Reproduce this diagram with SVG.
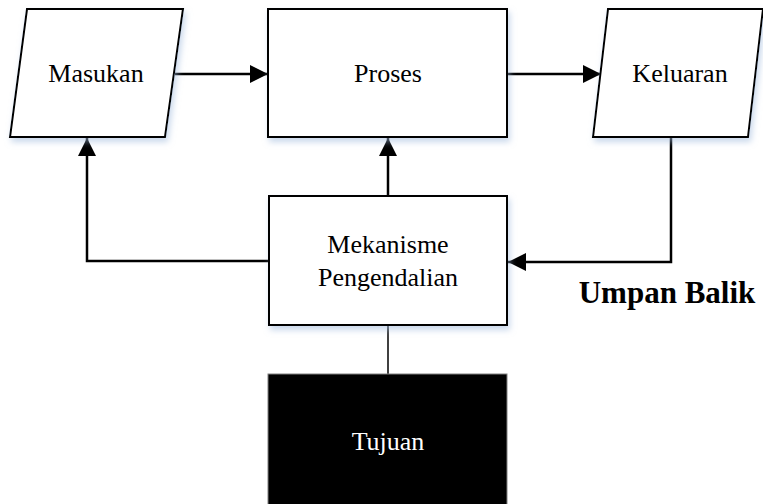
<svg xmlns="http://www.w3.org/2000/svg" width="763" height="504" viewBox="0 0 763 504">
<style>
.shape{fill:#ffffff;stroke:#000000;stroke-width:2;filter:url(#sh)}
.lbl{font-family:"Liberation Serif","Times New Roman",serif;font-size:26px;fill:#000000;text-anchor:middle}
.con{fill:none;stroke:#000000;stroke-width:2.5}
</style>
<defs>
<filter id="sh" x="-10%" y="-10%" width="130%" height="130%">
<feDropShadow dx="2" dy="4" stdDeviation="3" flood-color="#9db8dc" flood-opacity="0.55"/>
</filter>
<marker id="ah" markerUnits="userSpaceOnUse" markerWidth="18" markerHeight="18" refX="18" refY="9" orient="auto">
<path d="M0,0 L18,9 L0,18 z" fill="#000000"/>
</marker>
</defs>
<rect width="763" height="504" fill="#ffffff"/>
<g id="connectors">
<line class="con" x1="175" y1="74" x2="268" y2="74" marker-end="url(#ah)"/>
<line class="con" x1="507" y1="74" x2="601" y2="74" marker-end="url(#ah)"/>
<line class="con" x1="388" y1="196" x2="388" y2="138" marker-end="url(#ah)"/>
<polyline class="con" points="269,261 87,261 87,138" marker-end="url(#ah)"/>
<polyline class="con" points="671,137 671,262 508,262" marker-end="url(#ah)"/>
<line x1="388" y1="325" x2="388" y2="374" stroke="#000000" stroke-width="1.5"/>
</g>
<g id="masukan">
<polygon class="shape" points="27,9 183,9 165,137 10,137"/>
<text class="lbl" x="96" y="82">Masukan</text>
</g>
<g id="proses">
<rect class="shape" x="268" y="9" width="239" height="128"/>
<text class="lbl" x="388" y="82">Proses</text>
</g>
<g id="keluaran">
<polygon class="shape" points="608,9 763,9 748,137 593,137"/>
<text class="lbl" x="680" y="82">Keluaran</text>
</g>
<g id="mekanisme">
<rect class="shape" x="269" y="196" width="238" height="129"/>
<text class="lbl" x="388" y="253">Mekanisme</text>
<text class="lbl" x="388" y="286">Pengendalian</text>
</g>
<g id="tujuan">
<rect x="268" y="374" width="239" height="135" fill="#000000" stroke="#808080" stroke-width="1"/>
<text class="lbl" x="388" y="450" fill="#ffffff" style="fill:#ffffff">Tujuan</text>
</g>
<g id="umpan-balik">
<text x="667" y="303" font-family="'Liberation Serif','Times New Roman',serif" font-size="31" font-weight="bold" text-anchor="middle" fill="#000000">Umpan Balik</text>
</g>
</svg>
